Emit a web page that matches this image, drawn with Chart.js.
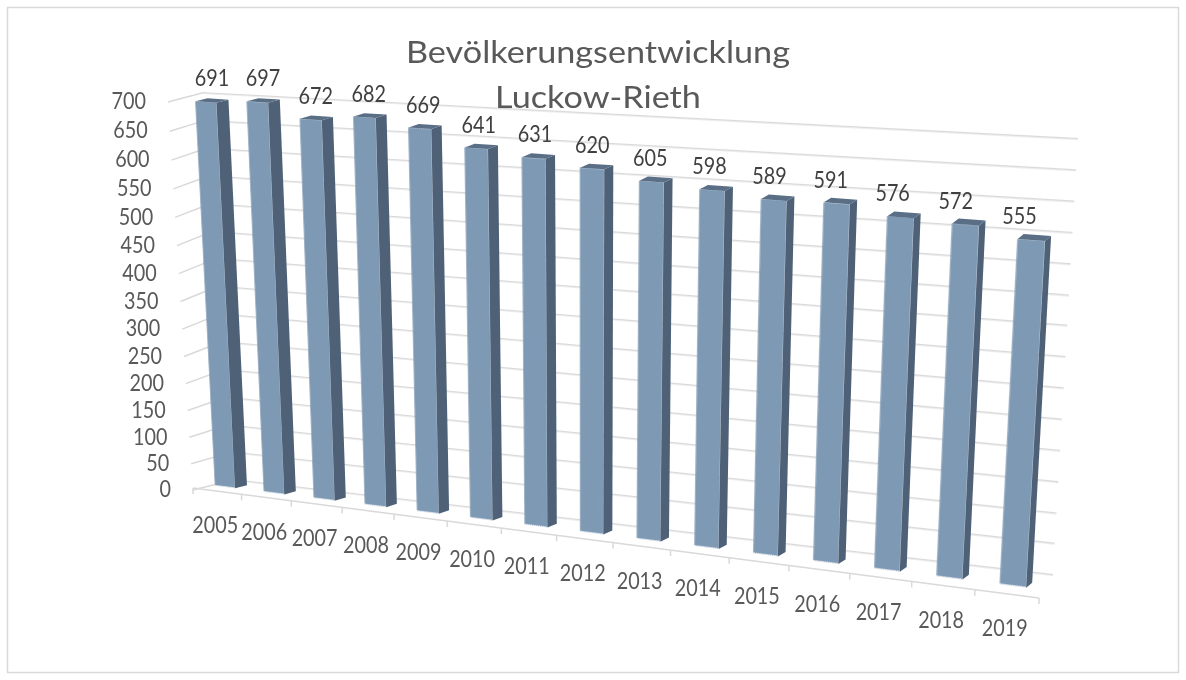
<!DOCTYPE html>
<html>
<head>
<meta charset="utf-8">
<script src="https://cdn.jsdelivr.net/npm/chart.js@4.4.1/dist/chart.umd.min.js"></script>
<style>
html, body { margin:0; padding:0; background:#fff; }
#wrap { width:1186px; height:680px; }
</style>
</head>
<body>
<div id="wrap"><canvas id="popChart" width="1186" height="680"></canvas></div>
<script>
// ----------------- DATA -----------------
const years = ["2005","2006","2007","2008","2009","2010","2011","2012","2013","2014","2015","2016","2017","2018","2019"];
const population = [691,697,672,682,669,641,631,620,605,598,589,591,576,572,555];
const yTickValues = [0,50,100,150,200,250,300,350,400,450,500,550,600,650,700];
const titleLines = ["Bevölkerungsentwicklung","Luckow-Rieth"];

const FONT = "Lato, 'Open Sans', sans-serif";
const TEXT_COLOR = "#595959";
const GRID_COLOR = "#d9d9d9";
const LABEL_SIZE = 23;
const SQUEEZE = 0.86;   // Lato is wider than the original font

// ----------------- PERSPECTIVE HELPERS -----------------
// t = 0..1 across the category axis, v = 0..1 from 0 to axis max
const K = 0.174;
function fore(t){ return (t + K*t*t)/(1+K); }
function lerp(a,b,v){ return a + (b-a)*v; }

// plane the bars stand in
function barPt(t, v){
    const G = fore(t);
    const xb = 200.9 + 844.3*G, yb = 487 + 0.1256*(xb-225);
    const xt = 180.3 + 889.8*G, yt = 97 + 0.0633*(xt-205.75);
    return [lerp(xb,xt,v), lerp(yb,yt,v)];
}
// back wall with the grid lines
function wallPt(t, v){
    const G = fore(t);
    const xb = 233 + 820*G, yb = 480 + 0.1159*(xb-233);
    const xt = 202 + 876*G, yt = 93 + 0.0525*(xt-202);
    return [lerp(xb,xt,v), lerp(yb,yt,v)];
}
// front edge of the floor
function floorPt(t){
    const x = 193 + 846*fore(t);
    return [x, 488 + 0.130*(x-193)];
}
// front edge of the left side wall
function frontLeft(v){
    return [193 - 25*v, 490 - 366*v - 22*v*v];
}

function snapshot(chart){
    const c = document.createElement("canvas");
    c.width = chart.canvas.width;
    c.height = chart.canvas.height;
    c.getContext("2d").drawImage(chart.canvas, 0, 0);
    return c;
}

function clearAll(chart, fill){
    const c = chart.ctx;
    c.save();
    c.setTransform(1,0,0,1,0,0);
    if(fill){
        c.fillStyle = fill;
        c.fillRect(0,0,chart.canvas.width,chart.canvas.height);
    } else {
        c.clearRect(0,0,chart.canvas.width,chart.canvas.height);
    }
    c.restore();
}

// draw the flat layer column by column into the perspective plane
function warp(ctx, src, ca, mapFn, top, bottom){
    const W = ca.right - ca.left, H = ca.bottom - ca.top;
    const step = 2;
    for(let px = Math.floor(ca.left); px < ca.right; px += step){
        const t0 = (px - ca.left)/W, t1 = (px + step - ca.left)/W;
        const b0 = mapFn(t0,0), b1 = mapFn(t1,0), p0 = mapFn(t0,1);
        const a = (b1[0]-b0[0])/step, b = (b1[1]-b0[1])/step;
        const c = -(p0[0]-b0[0])/H, d = -(p0[1]-b0[1])/H;
        const e = b0[0] - a*px - c*ca.bottom;
        const f = b0[1] - b*px - d*ca.bottom;
        ctx.setTransform(a,b,c,d,e,f);
        ctx.drawImage(src, px, top, step+1, bottom-top, px, top, step+1, bottom-top);
    }
    ctx.setTransform(1,0,0,1,0,0);
}

// text centred on y, squeezed horizontally
function text(ctx, str, x, y, size, color, align, sx){
    ctx.save();
    ctx.font = size + "px " + FONT;
    ctx.fillStyle = color;
    ctx.textAlign = align || "center";
    ctx.textBaseline = "alphabetic";
    ctx.translate(x, y + size*0.36);
    ctx.scale(sx || SQUEEZE, 1);
    ctx.fillText(str, 0, 0);
    ctx.restore();
}

// ----------------- 3D PLUGIN -----------------
let wallLayer = null, barLayer = null;

const perspective = {
    id: "perspective",
    beforeDraw(chart){
        clearAll(chart, "#ffffff");
    },
    beforeDatasetsDraw(chart){
        wallLayer = snapshot(chart);
        clearAll(chart);
    },
    afterDatasetsDraw(chart){
        barLayer = snapshot(chart);
        clearAll(chart);
    },
    afterDraw(chart){
        const ctx = chart.ctx;
        const ca = chart.chartArea;
        const W = ca.right - ca.left, H = ca.bottom - ca.top;
        const xs = chart.scales.x, ys = chart.scales.y;
        const toV = val => (ca.bottom - ys.getPixelForValue(val))/H;

        ctx.save();
        ctx.setTransform(1,0,0,1,0,0);
        ctx.fillStyle = "#ffffff";
        ctx.fillRect(0,0,chart.canvas.width,chart.canvas.height);

        // outer frame
        ctx.strokeStyle = GRID_COLOR;
        ctx.lineWidth = 1.5;
        ctx.strokeRect(7.5,7.5,1171,665);

        // back wall with grid
        warp(ctx, wallLayer, ca, wallPt, ca.top-3, ca.bottom+3);

        // left side wall grid lines
        ctx.strokeStyle = GRID_COLOR;
        ctx.lineWidth = 1.5;
        yTickValues.forEach(val => {
            const v = toV(val);
            const a = frontLeft(v), b = wallPt(0, v);
            ctx.beginPath();
            ctx.moveTo(a[0], a[1]);
            ctx.lineTo(b[0], b[1]);
            ctx.stroke();
        });

        // floor front edge with category ticks
        const f0 = floorPt(0), f1 = floorPt(1);
        ctx.beginPath();
        ctx.moveTo(f0[0], f0[1]);
        ctx.lineTo(f1[0], f1[1]);
        for(let j = 0; j <= years.length; j++){
            const p = floorPt(j/years.length);
            ctx.moveTo(p[0], p[1]);
            ctx.lineTo(p[0], p[1]+6);
        }
        ctx.stroke();

        // title: cap height like the original, width squeezed to fit
        const tsize = 31.5;
        ctx.font = tsize + "px " + FONT;
        const tsx = 384/ctx.measureText(titleLines[0]).width;
        ctx.fillStyle = TEXT_COLOR;
        ctx.textAlign = "center";
        ctx.textBaseline = "alphabetic";
        [[titleLines[0], 63], [titleLines[1], 108]].forEach(([str, by]) => {
            ctx.save();
            ctx.translate(598, by);
            ctx.scale(tsx, 1);
            ctx.fillText(str, 0, 0);
            ctx.restore();
        });

        // bar fronts
        warp(ctx, barLayer, ca, barPt, ca.top-2, ca.bottom+1);

        // bar sides and tops
        const meta = chart.getDatasetMeta(0);
        const n = years.length;
        meta.data.forEach((bar, i) => {
            const s = i/(n-1);
            const tl = (bar.x - bar.width/2 - ca.left)/W;
            const tr = (bar.x + bar.width/2 - ca.left)/W;
            const vt = (ca.bottom - bar.y)/H;
            const frb = barPt(tr, 0), frt = barPt(tr, vt), flt = barPt(tl, vt);
            const dx = 12 - 6*s, dy = -3 - 2*s;

            ctx.fillStyle = "#4e6176";
            ctx.beginPath();
            ctx.moveTo(frt[0], frt[1]);
            ctx.lineTo(frt[0]+dx, frt[1]+dy);
            ctx.lineTo(frb[0]+dx, frb[1]+dy);
            ctx.lineTo(frb[0], frb[1]);
            ctx.closePath();
            ctx.fill();

            ctx.fillStyle = "#5a6e85";
            ctx.beginPath();
            ctx.moveTo(flt[0], flt[1]);
            ctx.lineTo(frt[0], frt[1]);
            ctx.lineTo(frt[0]+dx, frt[1]+dy);
            ctx.lineTo(flt[0]+dx, flt[1]+dy);
            ctx.closePath();
            ctx.fill();

            // value label
            const tc = (bar.x - ca.left)/W;
            const p = barPt(tc, vt);
            const lx = 6 - 6*s - 12*s*s;
            text(ctx, String(population[i]), p[0]+lx, p[1]-24, LABEL_SIZE, "#404040");
        });

        // y tick labels
        yTickValues.forEach(val => {
            const a = frontLeft(toV(val));
            text(ctx, String(val), a[0]-22, a[1]-1, LABEL_SIZE, TEXT_COLOR, "right");
        });

        // x tick labels
        years.forEach((y, i) => {
            const t = (xs.getPixelForValue(i) - ca.left)/W;
            const p = floorPt(t);
            text(ctx, y, p[0]-2, p[1]+34, LABEL_SIZE, TEXT_COLOR);
        });

        ctx.restore();
    }
};

// ----------------- CHART -----------------
const ctxPop = document.getElementById("popChart").getContext("2d");

const popChart = new Chart(ctxPop, {
    type: 'bar',
    data: {
        labels: years,
        datasets: [{
            data: population,
            backgroundColor: "#7e99b4",
            borderWidth: 0,
            barPercentage: 0.41,
            categoryPercentage: 1
        }]
    },
    options: {
        responsive: false,
        animation: false,
        events: [],
        layout: { padding: { left:200, right:146, top:100, bottom:190 } },
        plugins: {
            legend: { display:false },
            title: { display:false },
            tooltip: { enabled:false }
        },
        scales: {
            x: { display:false },
            y: {
                min: 0,
                max: 700,
                afterBuildTicks: scale => { scale.ticks = yTickValues.map(v => ({ value:v })); },
                ticks: { display:false },
                grid: { color: GRID_COLOR, lineWidth: 1.5, drawTicks:false },
                border: { display:false }
            }
        }
    },
    plugins: [perspective]
});
</script>
</body>
</html>
